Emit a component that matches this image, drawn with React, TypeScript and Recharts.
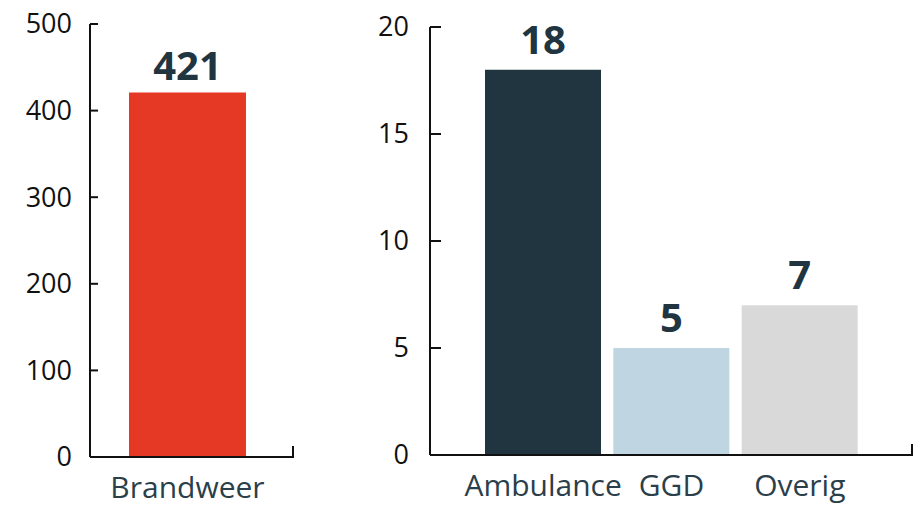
import React from "react";
import { BarChart, Bar, XAxis, YAxis, Cell, LabelList } from "recharts";

// Left panel: Brandweer
const leftCategories = ["Brandweer"];
const leftValues = [421];
const leftTicks = [0, 100, 200, 300, 400, 500];

// Right panel: other services
const rightCategories = ["Ambulance", "GGD", "Overig"];
const rightValues = [18, 5, 7];
const rightTicks = [0, 5, 10, 15, 20];

const LEFT_COLORS = ["#e53825"];
const RIGHT_COLORS = ["#213541", "#bfd6e2", "#d9d9d9"];

const FONT = "'Open Sans', 'Noto Sans', sans-serif";
const AXIS = "#111111";
const LABEL_DARK = "#213541";
const CAT_COLOR = "#2b3f4b";

const leftData = leftCategories.map((name, i) => ({ name, value: leftValues[i] }));
const rightData = rightCategories.map((name, i) => ({ name, value: rightValues[i] }));

function yTick(margin: number, len: number) {
  return (props: any) => {
    const { x, y, payload } = props;
    const ax = x + margin;
    return (
      <g>
        <line x1={ax} x2={ax + len} y1={y} y2={y} stroke={AXIS} strokeWidth={2} />
        <text x={x} y={y} dy="0.35em" textAnchor="end" fontSize={27} fill="#111" fontFamily={FONT}>
          {payload.value}
        </text>
      </g>
    );
  };
}

function xTick(endX: number, count: number) {
  return (props: any) => {
    const { x, y, payload, index } = props;
    return (
      <g>
        <text x={x} y={y + 41} textAnchor="middle" fontSize={30} fill={CAT_COLOR} fontFamily={FONT}>
          {payload.value}
        </text>
        {index === count - 1 && (
          <line x1={endX} x2={endX} y1={y + 1} y2={y - 11} stroke={AXIS} strokeWidth={2} />
        )}
      </g>
    );
  };
}

const LEFT_W = 310;
const LEFT_MR = 17;
const RIGHT_W = 564;
const RIGHT_MR = 12;

export default function App() {
  return (
    <div style={{ position: "absolute", left: 0, top: 0, width: 924, height: 506, background: "#fff" }}>
      <div style={{ position: "absolute", left: 0, top: 0 }}>
        <BarChart width={LEFT_W} height={506} data={leftData} margin={{ top: 24, right: LEFT_MR, bottom: 0, left: 0 }}>
          <XAxis
            dataKey="name"
            height={49}
            tickLine={false}
            tickSize={0}
            tickMargin={0}
            axisLine={{ stroke: AXIS, strokeWidth: 2 }}
            padding={{ left: 0, right: 8 }}
            tick={xTick(LEFT_W - LEFT_MR, leftCategories.length)}
            interval={0}
          />
          <YAxis
            width={90}
            domain={[0, 500]}
            ticks={leftTicks}
            interval={0}
            tickLine={false}
            tickSize={0}
            tickMargin={18}
            axisLine={{ stroke: AXIS, strokeWidth: 2 }}
            tick={yTick(18, 8)}
          />
          <Bar dataKey="value" barSize={117} isAnimationActive={false}>
            {leftData.map((_, i) => (
              <Cell key={i} fill={LEFT_COLORS[i % LEFT_COLORS.length]} />
            ))}
            <LabelList
              dataKey="value"
              position="top"
              offset={12}
              fill={LABEL_DARK}
              style={{ fontSize: 40, fontWeight: 700, fontFamily: FONT }}
            />
          </Bar>
        </BarChart>
      </div>
      <div style={{ position: "absolute", left: 360, top: 0 }}>
        <BarChart width={RIGHT_W} height={506} data={rightData} margin={{ top: 27, right: RIGHT_MR, bottom: 0, left: 0 }}>
          <XAxis
            dataKey="name"
            height={51}
            tickLine={false}
            tickSize={0}
            tickMargin={0}
            axisLine={{ stroke: AXIS, strokeWidth: 2 }}
            padding={{ left: 49, right: 48 }}
            tick={xTick(RIGHT_W - RIGHT_MR, rightCategories.length)}
            interval={0}
          />
          <YAxis
            width={70}
            domain={[0, 20]}
            ticks={rightTicks}
            interval={0}
            tickLine={false}
            tickSize={0}
            tickMargin={21}
            axisLine={{ stroke: AXIS, strokeWidth: 2 }}
            tick={yTick(21, 11)}
          />
          <Bar dataKey="value" barSize={116} isAnimationActive={false}>
            {rightData.map((_, i) => (
              <Cell key={i} fill={RIGHT_COLORS[i % RIGHT_COLORS.length]} />
            ))}
            <LabelList
              dataKey="value"
              position="top"
              offset={16}
              fill={LABEL_DARK}
              style={{ fontSize: 40, fontWeight: 700, fontFamily: FONT }}
            />
          </Bar>
        </BarChart>
      </div>
    </div>
  );
}
